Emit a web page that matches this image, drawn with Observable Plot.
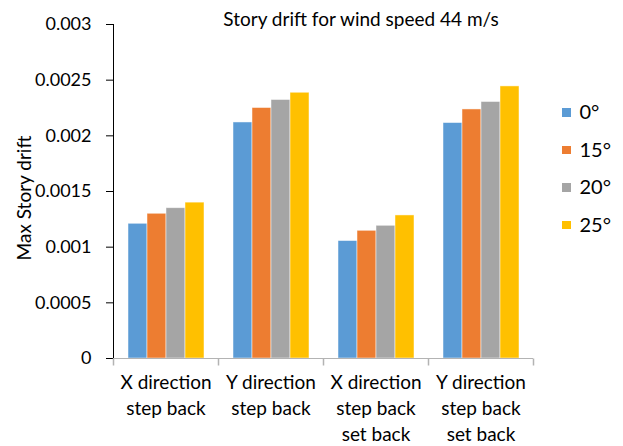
<!DOCTYPE html>
<html>
<head>
<meta charset="utf-8">
<script src="https://cdn.jsdelivr.net/npm/d3@7"></script>
<script src="https://cdn.jsdelivr.net/npm/@observablehq/plot@0.6"></script>
<style>
  body { margin: 0; background: #fff; }
  #wrap { position: relative; width: 623px; height: 446px; font-family: Lato, sans-serif; color: #000; }
  #title { position: absolute; left: 0; width: 623px; top: 8px; text-align: center; padding-left: 99px; box-sizing: border-box; font-size: 19px; line-height: 22px; }
  #ylabel { position: absolute; left: 24px; top: 198px; font-size: 19px; line-height: 20px; white-space: nowrap; transform: translate(-50%, -50%) rotate(-90deg); z-index: 2; }
  #legend { position: absolute; left: 562px; top: 99px; font-size: 20px; }
  .item { height: 37.5px; display: flex; align-items: flex-start; }
  .sw { width: 8.5px; height: 8.5px; margin-right: 9px; margin-top: 9px; }
  svg [aria-label="y-axis tick"] { stroke: #a6a6a6; }
  svg [aria-label="frame"] { stroke: #b3b3b3; }
</style>
</head>
<body>
<div id="wrap">
  <div id="title"></div>
  <div id="ylabel"></div>
  <div id="legend"></div>
</div>
<script>
const titleText = "Story drift for wind speed 44 m/s";
const yLabel = "Max Story drift";
const categories = ["X direction\nstep back", "Y direction\nstep back", "X direction\nstep back\nset back", "Y direction\nstep back\nset back"];
const angles = ["0°", "15°", "20°", "25°"];
const colors = ["#5B9BD5", "#ED7D31", "#A5A5A5", "#FFC000"];
const v0 = [0.00121, 0.00212, 0.001055, 0.002115];
const v15 = [0.0013, 0.00225, 0.001147, 0.002237];
const v20 = [0.00135, 0.002322, 0.001192, 0.002304];
const v25 = [0.0014, 0.002387, 0.001285, 0.002444];
const yTicks = [0, 0.0005, 0.001, 0.0015, 0.002, 0.0025, 0.003];
const yTickLabels = ["0", "0.0005", "0.001", "0.0015", "0.002", "0.0025", "0.003"];

const series = [v0, v15, v20, v25];
const rows = [];
categories.forEach((c, ci) => angles.forEach((a, ai) => rows.push({cat: c, angle: a, value: series[ai][ci]})));

const tickSymbol = { draw(ctx) { ctx.moveTo(0, 0); ctx.lineTo(0, 7); } };

const chart = Plot.plot({
  width: 623,
  height: 446,
  marginLeft: 112,
  marginRight: 89,
  marginTop: 24,
  marginBottom: 88,
  style: { fontFamily: "Lato, sans-serif", fontSize: "18px", color: "#000", background: "transparent" },
  fx: { domain: categories, padding: 0, axis: null, label: null },
  x: { domain: angles, paddingInner: 0, paddingOuter: 0.75, axis: null },
  y: {
    domain: [0, 0.003], ticks: yTicks, tickSize: 7, tickPadding: 15, line: true,
    tickFormat: d => yTickLabels[yTicks.indexOf(d)],
    label: null
  },
  color: { domain: angles, range: colors },
  marks: [
    Plot.barY(rows, { fx: "cat", x: "angle", y: "value", fill: "angle", stroke: "white", strokeWidth: 0.8, strokeOpacity: 0.6 }),
    Plot.ruleY([0], { stroke: "#b3b3b3" }),
    Plot.axisFx({ anchor: "bottom", tickSize: 0, tickPadding: 12, lineHeight: 1.37, fontSize: 19, label: null }),
    Plot.dot(categories, { fx: d => d, frameAnchor: "bottom-left", symbol: tickSymbol, r: 3, stroke: "#b3b3b3", fill: "none" }),
    Plot.dot([categories[categories.length - 1]], { fx: d => d, frameAnchor: "bottom-right", symbol: tickSymbol, r: 3, stroke: "#b3b3b3", fill: "none" })
  ]
});
document.getElementById("wrap").appendChild(chart);
chart.style.position = "absolute";
chart.style.left = "0";
chart.style.top = "0";
document.getElementById("title").textContent = titleText;
document.getElementById("ylabel").textContent = yLabel;
const legend = document.getElementById("legend");
angles.forEach((a, i) => {
  const it = document.createElement("div");
  it.className = "item";
  const sw = document.createElement("div");
  sw.className = "sw";
  sw.style.background = colors[i];
  const t = document.createElement("span");
  t.textContent = a;
  it.appendChild(sw); it.appendChild(t);
  legend.appendChild(it);
});
</script>
</body>
</html>
